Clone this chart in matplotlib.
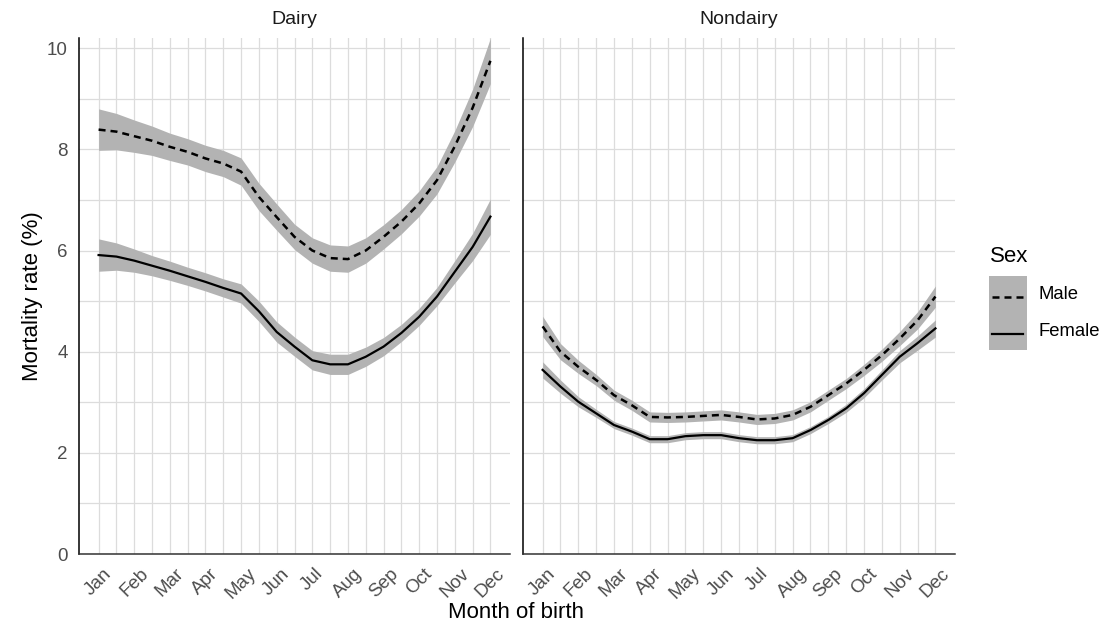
import numpy as np
import matplotlib
matplotlib.use("Agg")
import matplotlib.pyplot as plt
from matplotlib.patches import Rectangle
from matplotlib.lines import Line2D

plt.rcParams['font.family'] = ['Liberation Sans', 'DejaVu Sans']

# data (half-month steps)
month_pos = np.arange(1, 12.5, 0.5)
month_labels = ['Jan', 'Feb', 'Mar', 'Apr', 'May', 'Jun',
                'Jul', 'Aug', 'Sep', 'Oct', 'Nov', 'Dec']

dairy_male = [8.39, 8.35, 8.26, 8.17, 8.05, 7.95, 7.82, 7.72, 7.56, 7.06, 6.66, 6.27,
              6.00, 5.85, 5.83, 6.00, 6.27, 6.57, 6.93, 7.39, 8.06, 8.82, 9.75]
dairy_male_se = [0.41, 0.36, 0.32, 0.29, 0.27, 0.26, 0.26, 0.26, 0.27, 0.27, 0.26, 0.25,
                 0.25, 0.26, 0.26, 0.25, 0.24, 0.24, 0.25, 0.27, 0.31, 0.37, 0.45]
dairy_female = [5.91, 5.88, 5.80, 5.70, 5.60, 5.49, 5.38, 5.26, 5.15, 4.80, 4.39, 4.10,
                3.83, 3.75, 3.75, 3.90, 4.10, 4.37, 4.69, 5.09, 5.58, 6.07, 6.67]
dairy_female_se = [0.32, 0.27, 0.23, 0.20, 0.19, 0.18, 0.18, 0.18, 0.19, 0.20, 0.20, 0.19,
                   0.19, 0.20, 0.20, 0.19, 0.18, 0.17, 0.17, 0.18, 0.22, 0.27, 0.35]

nondairy_male = [4.50, 4.00, 3.70, 3.44, 3.14, 2.94, 2.71, 2.70, 2.71, 2.73, 2.75, 2.71,
                 2.66, 2.68, 2.75, 2.91, 3.14, 3.37, 3.64, 3.93, 4.26, 4.62, 5.09]
nondairy_male_se = [0.20, 0.16, 0.13, 0.11, 0.10, 0.10, 0.10, 0.10, 0.10, 0.10, 0.10, 0.10,
                    0.10, 0.10, 0.10, 0.10, 0.10, 0.10, 0.11, 0.12, 0.14, 0.17, 0.21]
nondairy_female = [3.64, 3.31, 3.01, 2.78, 2.55, 2.42, 2.27, 2.27, 2.33, 2.35, 2.35, 2.29,
                   2.25, 2.25, 2.29, 2.45, 2.65, 2.88, 3.18, 3.54, 3.90, 4.17, 4.46]
nondairy_female_se = [0.16, 0.13, 0.10, 0.08, 0.07, 0.07, 0.07, 0.07, 0.07, 0.07, 0.07, 0.07,
                      0.07, 0.07, 0.07, 0.07, 0.07, 0.08, 0.09, 0.10, 0.12, 0.14, 0.17]

panels = [
    ('Dairy', dairy_male, dairy_male_se, dairy_female, dairy_female_se),
    ('Nondairy', nondairy_male, nondairy_male_se, nondairy_female, nondairy_female_se),
]
sexes = ['Male', 'Female']

ribbon_col = '#b3b3b3'
grid_col = '#dcdcdc'
dash = (0, (2.8, 2.0))

W, H = 1108, 630
fig = plt.figure(figsize=(W / 100, H / 100), dpi=100)
ax_l = fig.add_axes([0.0713, 0.1206, 0.389, 0.819])
ax_r = fig.add_axes([0.472, 0.1206, 0.390, 0.819])

for ax, (title, m, m_se, f, f_se) in zip([ax_l, ax_r], panels):
    m = np.array(m); m_se = np.array(m_se)
    f = np.array(f); f_se = np.array(f_se)
    ax.fill_between(month_pos, m - m_se, m + m_se, color=ribbon_col, lw=0, zorder=2)
    ax.fill_between(month_pos, f - f_se, f + f_se, color=ribbon_col, lw=0, zorder=2)
    ax.plot(month_pos, m, color='black', lw=1.8, ls=dash, zorder=3)
    ax.plot(month_pos, f, color='black', lw=1.6, zorder=3)

    ax.set_xlim(0.45, 12.55)
    ax.set_ylim(0, 10.2)
    ax.set_xticks(range(1, 13))
    ax.set_xticks(np.arange(1.5, 12.5, 1), minor=True)
    ax.set_xticklabels(month_labels, rotation=45, ha='center', va='top',
                       fontsize=13.5, color='#4d4d4d')
    ax.set_yticks([0, 2, 4, 6, 8, 10])
    ax.set_yticks([1, 3, 5, 7, 9], minor=True)
    ax.tick_params(which='both', length=0)
    ax.tick_params(axis='x', pad=8)
    ax.tick_params(axis='y', pad=8, labelsize=13.5, labelcolor='#4d4d4d')
    ax.grid(True, which='both', color=grid_col, lw=0.9, zorder=0)
    ax.set_axisbelow(True)
    for s in ['top', 'right']:
        ax.spines[s].set_visible(False)
    ax.spines['left'].set_color('black')
    ax.spines['left'].set_linewidth(1.1)
    ax.spines['bottom'].set_color('#333333')
    ax.spines['bottom'].set_linewidth(1.1)
    ax.set_title(title, fontsize=14, color='#1a1a1a', pad=10)

ax_r.tick_params(axis='y', labelleft=False)
ax_l.set_ylabel('Mortality rate (%)', fontsize=16, labelpad=3)
fig.text(0.466, 0.028, 'Month of birth', ha='center', va='center', fontsize=16)

# legend, drawn by hand so the keys match the ggplot style
def px(x, y):
    return x / W, 1 - y / H

fig.text(*px(990, 257), 'Sex', fontsize=16, ha='left', va='center')
key_x0, key_w, key_h, key_y0 = 989, 38, 37, 276
for i, label in enumerate(sexes):
    y_top = key_y0 + i * key_h
    yc = y_top + key_h / 2
    fig.add_artist(Rectangle(px(key_x0, y_top + key_h), key_w / W, key_h / H,
                             transform=fig.transFigure, facecolor=ribbon_col,
                             edgecolor='none'))
    xa, ya = px(key_x0 + 3, yc + 2)
    xb, _ = px(key_x0 + key_w - 4, 0)
    fig.add_artist(Line2D([xa, xb], [ya, ya], transform=fig.transFigure,
                          color='black', lw=1.8 if i == 0 else 1.6,
                          ls=dash if i == 0 else '-'))
    fig.text(*px(1038, yc), label, fontsize=13.3, ha='left', va='center')

fig.savefig('out.png', dpi=100)
